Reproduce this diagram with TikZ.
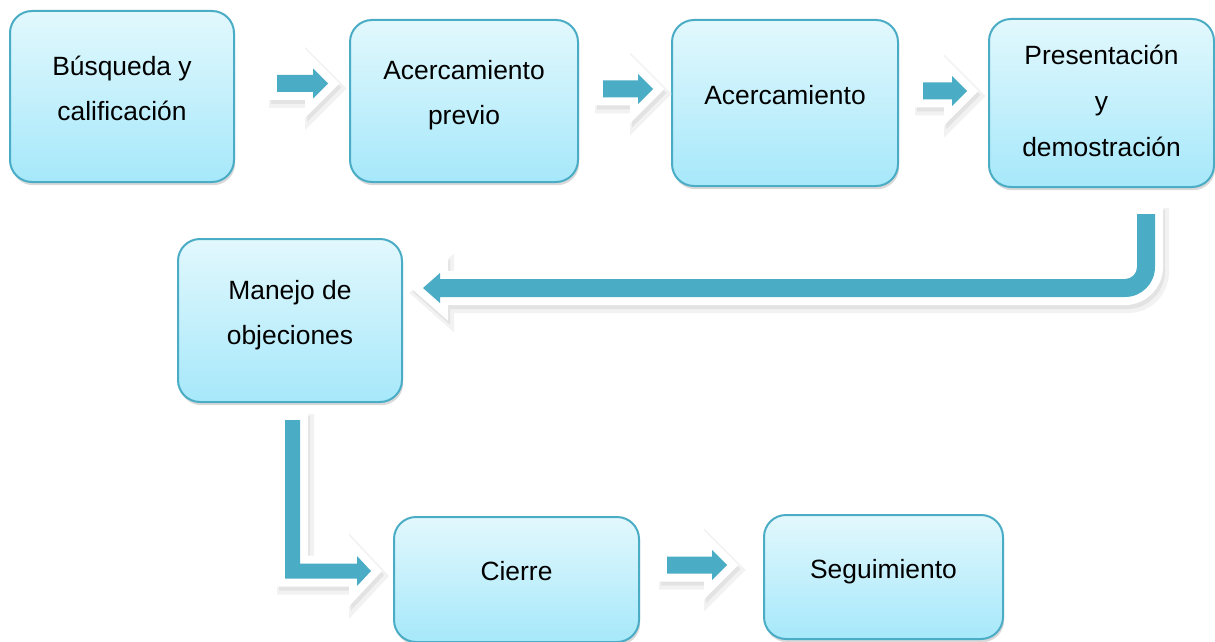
\documentclass[tikz,border=0pt]{standalone}
\usepackage{fontspec}
\setmainfont{Liberation Sans}
\usetikzlibrary{calc, shadows, positioning}
\definecolor{borde}{HTML}{4BACC6}
\definecolor{azul}{HTML}{4BACC6}
\definecolor{claro}{HTML}{E2F8FD}
\definecolor{oscuro}{HTML}{A6E8FA}

% flecha horizontal: #1 inicio, #2 punta
\newcommand{\flechader}[2]{%
  \path[flecha] ($(#1)+(0,-8.5)$) -- ($(#2)+(-15,-8.5)$) -- ($(#2)+(-15,-15)$)
    -- (#2) -- ($(#2)+(-15,15)$) -- ($(#2)+(-15,8.5)$) -- ($(#1)+(0,8.5)$) -- cycle;}

\begin{document}
\begin{tikzpicture}[x=0.5pt, y=-0.5pt,
    caja/.style = {draw=borde, line width=1pt, rounded corners=11pt,
      top color=claro, bottom color=oscuro, align=center, text depth=8.5pt,
      font=\fontsize{13.2}{22.5}\selectfont,
      drop shadow={shadow xshift=0.6pt, shadow yshift=-1.6pt, opacity=0.3}},
    flecha/.style = {fill=azul,
      preaction={draw=black!5, fill=black!5, line width=11pt, line join=miter,
        transform canvas={shift={(1.5pt,-2.5pt)}}},
      preaction={draw=black!11, fill=black!11, line width=8pt, line join=miter,
        transform canvas={shift={(1pt,-2pt)}}},
      preaction={draw=white, fill=white, line width=8pt, line join=miter}}]
  \useasboundingbox (0,0) rectangle (1215,642);

  \node[caja, minimum width=112pt, minimum height=85.5pt] (busqueda) at (122,96.5) {Búsqueda y\\calificación};
  \node[caja, minimum width=114pt, minimum height=81pt] (previo) at (464,101) {Acercamiento\\previo};
  \node[caja, minimum width=113pt, minimum height=83pt] (acercamiento) at (785,103) {Acercamiento};
  \node[caja, minimum width=112.5pt, minimum height=84pt, text depth=2.5pt,
    font=\fontsize{13.2}{23}\selectfont] (presentacion) at (1101.5,103) {Presentación\\y\\demostración};
  \node[caja, minimum width=112pt, minimum height=81.5pt] (manejo) at (290,320.5) {Manejo de\\objeciones};
  \node[caja, minimum width=122.5pt, minimum height=62.5pt] (cierre) at (516.5,579.5) {Cierre};
  \node[caja, minimum width=119.5pt, minimum height=62pt] (seguimiento) at (883.5,577) {Seguimiento};

  % flechas entre las cajas
  \coordinate (f1a) at (277,83.5);  \coordinate (f1b) at (328,83.5);
  \coordinate (f2a) at (603,89);    \coordinate (f2b) at (653,89);
  \coordinate (f3a) at (923,91);    \coordinate (f3b) at (967,91);
  \coordinate (f6a) at (667,565);   \coordinate (f6b) at (727,565);
  \flechader{f1a}{f1b}
  \flechader{f2a}{f2b}
  \flechader{f3a}{f3b}
  \flechader{f6a}{f6b}

  % vuelta hacia el manejo de objeciones
  \coordinate (u0) at (1146,214);
  \coordinate (u1) at (423,288);
  \path[flecha] ($(u0)+(9,0)$) -- ($(u0 |- u1)+(9,-21)$)
    arc[start angle=0, end angle=90, radius=30]
    -- ($(u1)+(17,9)$) -- ($(u1)+(17,15)$) -- (u1) -- ($(u1)+(17,-15)$)
    -- ($(u1)+(17,-9)$) -- ($(u0 |- u1)+(-21,-9)$)
    arc[start angle=90, end angle=0, radius=12]
    -- ($(u0)+(-9,0)$) -- cycle;

  % bajada hacia el cierre
  \coordinate (l0) at (292.5,420);
  \coordinate (l1) at (371,571);
  \path[flecha] ($(l0)+(-7.5,0)$) -- ($(l0)+(7.5,0)$) -- ($(l0 |- l1)+(7.5,-7.5)$)
    -- ($(l1)+(-14,-7.5)$) -- ($(l1)+(-14,-15)$) -- (l1) -- ($(l1)+(-14,15)$)
    -- ($(l1)+(-14,7.5)$) -- ($(l0 |- l1)+(-7.5,7.5)$) -- cycle;
\end{tikzpicture}
\end{document}
